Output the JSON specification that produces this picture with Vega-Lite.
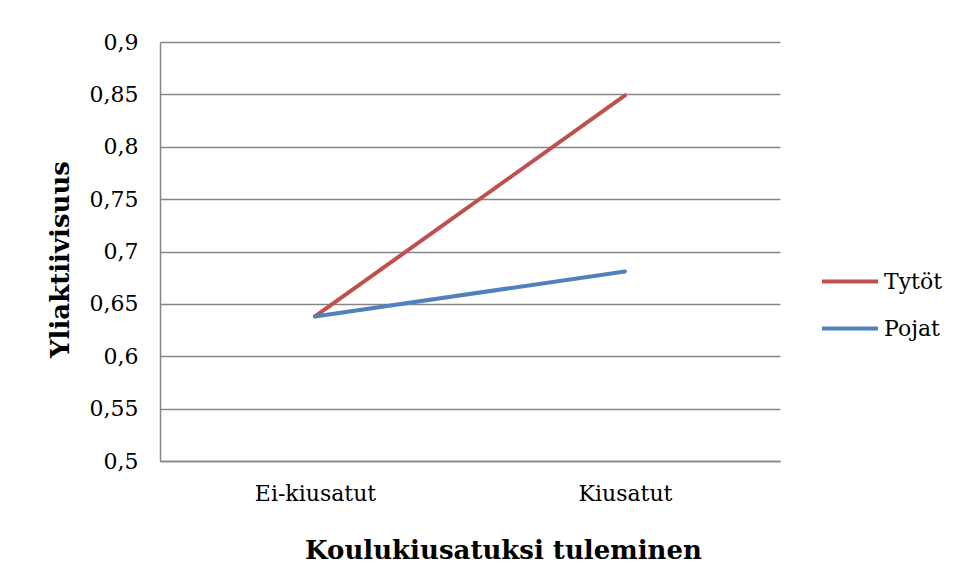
{
  "$schema": "https://vega.github.io/schema/vega-lite/v6.json",
  "width": 620,
  "height": 419,
  "autosize": {"type": "none"},
  "padding": {"left": 160, "top": 42, "right": 178, "bottom": 120},
  "background": "white",
  "config": {
    "view": {"stroke": null},
    "font": "DejaVu Serif",
    "axis": {"labelFont": "DejaVu Serif", "titleFont": "DejaVu Serif", "labelColor": "black", "titleColor": "black"}
  },
  "data": {
    "values": [
      {"ryhma": "Ei-kiusatut", "sukupuoli": "Tytöt", "arvo": 0.638, "jarj": 0},
      {"ryhma": "Kiusatut", "sukupuoli": "Tytöt", "arvo": 0.849, "jarj": 0},
      {"ryhma": "Ei-kiusatut", "sukupuoli": "Pojat", "arvo": 0.638, "jarj": 1},
      {"ryhma": "Kiusatut", "sukupuoli": "Pojat", "arvo": 0.681, "jarj": 1}
    ]
  },
  "mark": {"type": "line", "strokeWidth": 4, "strokeCap": "round"},
  "encoding": {
    "x": {
      "field": "ryhma", "type": "nominal", "sort": ["Ei-kiusatut", "Kiusatut"],
      "scale": {"type": "point", "padding": 0.5},
      "axis": {
        "title": "Koulukiusatuksi tuleminen", "titleFontSize": 26, "titleFontWeight": "bold",
        "titleX": 343, "titleAlign": "center", "titleAnchor": null,
        "labelFontSize": 22, "labelAngle": 0, "labelPadding": 22, "titlePadding": 33,
        "ticks": false, "domainColor": "#868686", "domainWidth": 1.5, "grid": false
      }
    },
    "y": {
      "field": "arvo", "type": "quantitative",
      "scale": {"domain": [0.5, 0.9], "nice": false, "zero": false},
      "axis": {
        "title": "Yliaktiivisuus", "titleFontSize": 26, "titleFontWeight": "bold",
        "titleY": 217, "titleAnchor": null,
        "values": [0.5, 0.55, 0.6, 0.65, 0.7, 0.75, 0.8, 0.85, 0.9],
        "labelExpr": "replace(format(datum.value, '.2~f'), '.', ',')",
        "labelFontSize": 22, "labelPadding": 22, "titlePadding": 16,
        "ticks": false, "domainColor": "#868686", "domainWidth": 1.5,
        "grid": true, "gridColor": "#868686", "gridWidth": 1.5
      }
    },
    "color": {
      "field": "sukupuoli", "type": "nominal",
      "scale": {"domain": ["Tytöt", "Pojat"], "range": ["#C0504D", "#4F81BD"]},
      "legend": {
        "title": null, "orient": "none", "legendX": 660, "legendY": 216,
        "symbolType": "stroke", "symbolStrokeWidth": 4, "symbolSize": 3136,
        "labelFontSize": 22, "labelFont": "DejaVu Serif", "labelColor": "black",
        "rowPadding": 0, "clipHeight": 47, "labelOffset": 4
      }
    },
    "order": {"field": "jarj"}
  }
}
